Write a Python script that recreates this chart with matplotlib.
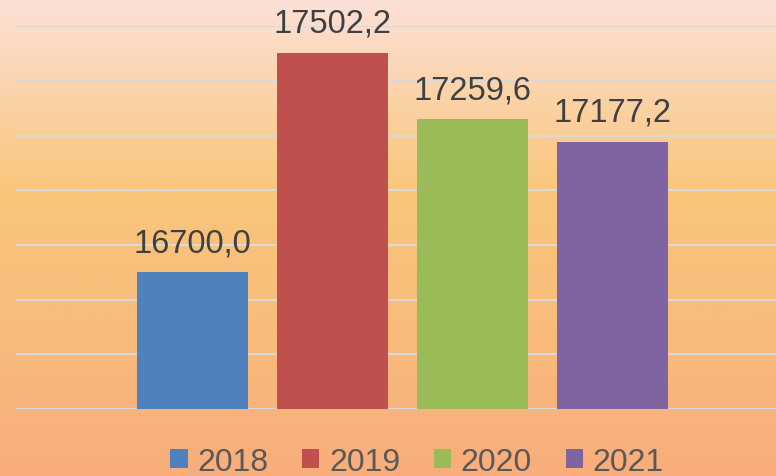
import matplotlib
matplotlib.use("Agg")
import matplotlib.pyplot as plt
import numpy as np
from matplotlib.colors import LinearSegmentedColormap
from matplotlib.patches import Patch

years = ["2018", "2019", "2020", "2021"]
values = [16700.0, 17502.2, 17259.6, 17177.2]
labels = ["16700,0", "17502,2", "17259,6", "17177,2"]
colors = ["#4f81bd", "#c0504d", "#9bbb59", "#8064a2"]

plt.rcParams['font.family'] = ['Liberation Sans', 'DejaVu Sans']

fig = plt.figure(figsize=(7.76, 4.77), dpi=100)

# gradient background
bg = fig.add_axes([0, 0, 1, 1], zorder=0)
stops = [(0.0, "#fde0d7"), (0.4, "#f9c67b"), (0.7, "#f8bb7b"), (1.0, "#f9ad7c")]
cmap = LinearSegmentedColormap.from_list("bg", stops)
grad = np.linspace(0, 1, 256).reshape(-1, 1)
bg.imshow(grad, aspect="auto", cmap=cmap, extent=[0, 1, 0, 1])
bg.axis("off")

W, H = 776, 477
ax = fig.add_axes([16 / W, (H - 410) / H, (W - 16) / W, (410 - 27.3) / H], zorder=1)
ax.patch.set_alpha(0)

x = np.arange(len(years))
ax.bar(x, values, width=111 / 140, color=colors, zorder=2)
for xi, v, lab in zip(x, values, labels):
    ax.text(xi, v + 52, lab, ha="center", va="bottom", fontsize=23.5,
            color="#404040", zorder=3)

ax.set_xlim((16 - 192.5) / 140, (W - 192.5) / 140)
ax.set_ylim(16200, 17600)
ax.set_yticks(np.arange(16200, 17601, 200))
ax.grid(axis="y", color="#d9d9d9", linewidth=1.5, zorder=1)
ax.set_axisbelow(True)
ax.tick_params(left=False, bottom=False, labelleft=False, labelbottom=False)
for s in ax.spines.values():
    s.set_visible(False)

handles = [Patch(facecolor=c, edgecolor="none") for c in colors]
fig.legend(handles, years, loc="center left", bbox_to_anchor=(170 / W, (H - 463) / H),
           ncol=4, frameon=False, fontsize=23, labelcolor="#595959",
           handlelength=0.55, handleheight=0.55, handletextpad=0.3,
           columnspacing=1.05, borderaxespad=0, borderpad=0)

fig.savefig("out.png", dpi=100)
